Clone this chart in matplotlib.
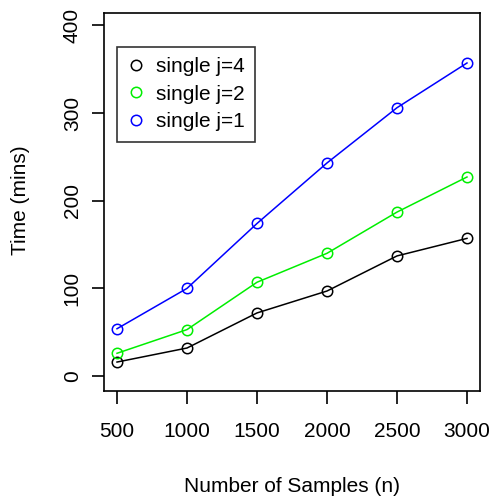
import matplotlib
matplotlib.use("Agg")
import matplotlib.pyplot as plt
from matplotlib.lines import Line2D

samples = [500, 1000, 1500, 2000, 2500, 3000]
time_j4 = [16, 32, 72, 97, 137, 157]
time_j2 = [26, 53, 107, 140, 187, 227]
time_j1 = [54, 100, 174, 243, 306, 357]
series_labels = ["single j=4", "single j=2", "single j=1"]
series_colors = ["black", "#00ee00", "#0000ff"]
xticks = [500, 1000, 1500, 2000, 2500, 3000]
yticks = [0, 100, 200, 300, 400]

plt.rcParams['font.family'] = ['Liberation Sans', 'DejaVu Sans']

W, H = 491, 496
fig = plt.figure(figsize=(W / 100, H / 100), dpi=100)
ax = fig.add_axes([0.2118, 0.2117, 0.9776 - 0.2118, 0.9738 - 0.2117])

for ys, c in zip([time_j4, time_j2, time_j1], series_colors):
    ax.plot(samples, ys, color=c, lw=1.1, marker='o', ms=7.5, mfc='none', mec=c, mew=1.1)

ax.set_xlim(407, 3093)
ax.set_ylim(-17, 414)
ax.set_xticks(xticks)
ax.set_yticks(yticks)
ax.set_xticklabels([str(v) for v in xticks], fontsize=15)
ax.set_yticklabels([str(v) for v in yticks], fontsize=15, rotation=90, va='center')
ax.tick_params(direction='out', length=9, width=1.2)
ax.tick_params(axis='x', pad=13)
ax.tick_params(axis='y', pad=7)
for s in ax.spines.values():
    s.set_linewidth(1.2)

fig.text(292 / W, 1 - 486 / H, "Number of Samples (n)", fontsize=15, ha='center', va='center')
fig.text(21 / W, 1 - 200 / H, "Time (mins)", fontsize=15, ha='center', va='center', rotation=90)

handles = [Line2D([], [], ls='none', marker='o', ms=7.5, mfc='none', mec=c, mew=1.1)
           for c in series_colors]
leg = ax.legend(handles, series_labels, loc='upper left', bbox_to_anchor=(0.0346, 0.910),
                fontsize=15, frameon=True, fancybox=False, edgecolor='black',
                handlelength=0.82, handletextpad=0.56, borderpad=0.5, labelspacing=0.4,
                borderaxespad=0)
leg.get_frame().set_linewidth(1.2)

fig.savefig("out.png", dpi=100)
